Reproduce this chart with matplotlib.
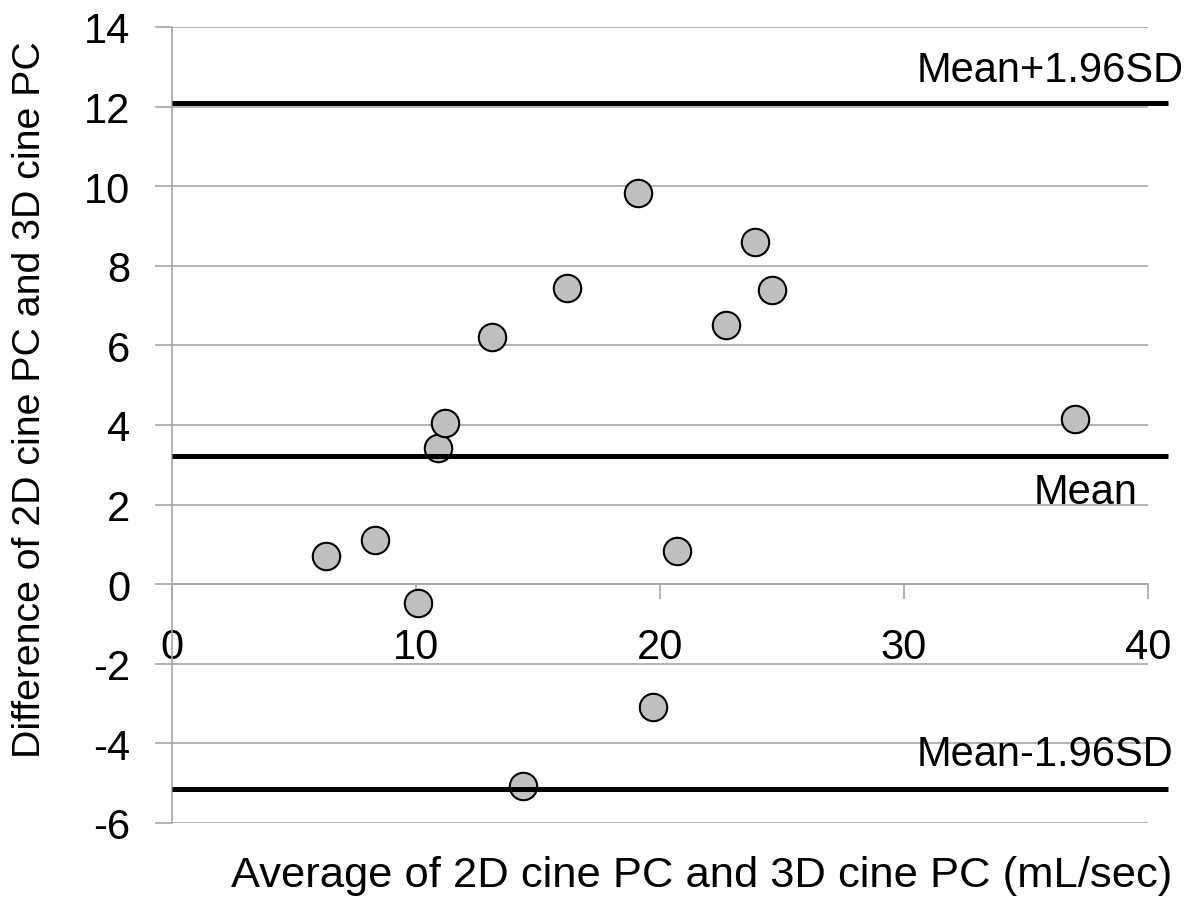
import matplotlib
matplotlib.use("Agg")
import matplotlib.pyplot as plt

# Bland-Altman data
avg_flow = [6.3, 8.3, 10.1, 10.9, 11.2, 13.1, 14.4, 16.2, 19.1, 19.7, 20.7, 22.7, 23.9, 24.6, 37.0]
diff_flow = [0.72, 1.12, -0.48, 3.42, 4.05, 6.21, -5.08, 7.45, 9.83, -3.09, 0.83, 6.5, 8.6, 7.4, 4.15]

mean_diff = 3.22
upper_loa = 12.1
lower_loa = -5.15
line_labels = ["Mean+1.96SD", "Mean", "Mean-1.96SD"]

x_ticks = [0, 10, 20, 30, 40]
y_ticks = list(range(-6, 15, 2))

plt.rcParams["font.family"] = ["Liberation Sans", "DejaVu Sans"]
grey = "#a6a6a6"

fig = plt.figure(figsize=(11.96, 9.12), dpi=100)
ax = fig.add_axes([0.1438, 0.0965, 0.8161, 0.8728])

ax.set_xlim(0, 40)
ax.set_ylim(-6, 14)
ax.set_yticks(y_ticks)
ax.set_xticks(x_ticks)
ax.set_yticklabels([str(v) for v in y_ticks])

ax.grid(axis="y", color=grey, linewidth=1.2, zorder=0)
ax.set_axisbelow(True)

for side in ["top", "right"]:
    ax.spines[side].set_visible(False)
ax.spines["left"].set_color(grey)
ax.spines["left"].set_linewidth(1.2)
ax.spines["bottom"].set_position(("data", 0))
ax.spines["bottom"].set_color(grey)
ax.spines["bottom"].set_linewidth(1.2)

ax.tick_params(axis="y", direction="out", length=12, width=1.2, color=grey,
               labelsize=30, pad=18)
ax.tick_params(axis="x", direction="out", length=11, width=1.2, color=grey,
               labelsize=30, pad=20)

ax.scatter(avg_flow, diff_flow, s=390, facecolor="#c0c0c0", edgecolor="black",
           linewidth=1.5, zorder=3, clip_on=False)

# mean and limits of agreement
for v in [upper_loa, mean_diff, lower_loa]:
    ax.plot([0, 40.8], [v, v], color="black", linewidth=3.6, zorder=4,
            solid_capstyle="butt", clip_on=False)

ax.text(30.5, upper_loa + 0.55, line_labels[0], ha="left", va="baseline", fontsize=30)
ax.text(35.3, mean_diff - 1.19, line_labels[1], ha="left", va="baseline", fontsize=30)
ax.text(30.5, lower_loa + 0.6, line_labels[2], ha="left", va="baseline", fontsize=30)

ax.set_xlabel("Average of 2D cine PC and 3D cine PC (mL/sec)", fontsize=31.3)
ax.xaxis.set_label_coords(0.543, -0.04)
ax.set_ylabel("Difference of 2D cine PC and 3D cine PC", fontsize=28.3)
ax.yaxis.set_label_coords(-0.127, 0.533)

fig.savefig("out.png", dpi=100)
